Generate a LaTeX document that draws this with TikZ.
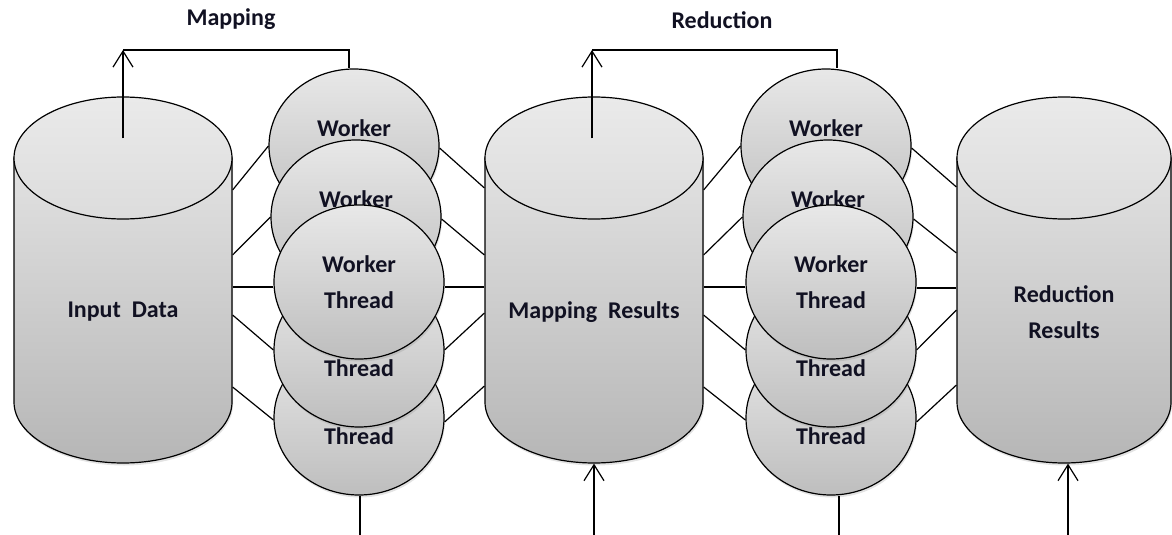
\documentclass[tikz,border=0pt]{standalone}
\usepackage{fontspec}
\setmainfont{Carlito}
\usetikzlibrary{shapes.geometric,arrows.meta,shadows,backgrounds}
\definecolor{cylA}{HTML}{E2E2E2}
\definecolor{cylB}{HTML}{B6B6B6}
\definecolor{capA}{HTML}{EAEAEA}
\definecolor{capB}{HTML}{DCDCDC}
\definecolor{wkA}{HTML}{E8E8E8}
\definecolor{wkB}{HTML}{BEBEBE}
\definecolor{txt}{HTML}{111122}
% #1 name, #2 centre x, #3 x radius, #4 text, #5 text y
\newcommand\mycyl[5]{%
  \shade[top color=cylA, bottom color=cylB, draw=black, line width=1.2pt,
         drop shadow={opacity=.22, shadow xshift=1pt, shadow yshift=-2.5pt}]
    (#2-#3,158) -- (#2-#3,402) arc[start angle=180, end angle=360, x radius=#3pt, y radius=61pt]
    -- (#2+#3,158) -- cycle;
  \shade[top color=capA, bottom color=capB, draw=black, line width=1.2pt]
    (#2,158) ellipse[x radius=#3pt, y radius=61pt];
  \node[inner sep=0pt, minimum width=2*#3pt, minimum height=366pt] (#1) at (#2,280) {};
  \node[lbl] at (#2,#5) {#4};
}
\begin{document}
\begin{tikzpicture}[x=1pt, y=-1pt, line width=1.2pt,
  lbl/.style={font=\fontsize{24}{35.5}\selectfont\bfseries, text=txt, align=center},
  wt/.style={ellipse, draw=black, line width=1.2pt, minimum width=170pt, minimum height=154pt,
             inner sep=0pt, top color=wkA, bottom color=wkB, lbl,
             drop shadow={opacity=.22, shadow xshift=1pt, shadow yshift=-2.5pt}},
  conn/.style={draw=black, line width=1.2pt},
  arr/.style={conn, -{Straight Barb[length=16pt, width=20pt]}}
]
\useasboundingbox (0,0) rectangle (1172,535);

% cylinders
\mycyl{in}{123}{109}{Input\ \ Data}{312}
\mycyl{mr}{594}{109}{Mapping\ \ Results}{312}
\mycyl{rr}{1064}{107}{Reduction\\Results}{312}

% worker threads, group 1 (stacking order 1,2,5,4,3)
\node[wt] (w1) at (354,146) {Worker\\Thread};
\node[wt] (w2) at (356,217) {Worker\\Thread};
\node[wt] (w5) at (359,418) {Worker\\Thread};
\node[wt] (w4) at (359,350) {Worker\\Thread};
\node[wt] (w3) at (359,282) {Worker\\Thread};
% worker threads, group 2
\node[wt] (v1) at (826,146) {Worker\\Thread};
\node[wt] (v2) at (828,217) {Worker\\Thread};
\node[wt] (v5) at (831,418) {Worker\\Thread};
\node[wt] (v4) at (831,350) {Worker\\Thread};
\node[wt] (v3) at (831,282) {Worker\\Thread};

% connectors behind the shapes
\begin{scope}[on background layer]
  \draw[conn] (in.east |- 0,190) -- (w1.west);
  \draw[conn] (in.east |- 0,255) -- (w2.west);
  \draw[conn] (in.east |- 0,287) -- (w3.west |- 0,287);
  \draw[conn] (in.east |- 0,315) -- (w4.west);
  \draw[conn] (in.east |- 0,387) -- ([yshift=-2pt]w5.west);
  \draw[conn] ([yshift=-2pt]w1.east) -- (mr.west |- 0,188);
  \draw[conn] ([yshift=-2pt]w2.east) -- (mr.west |- 0,255);
  \draw[conn] (w3.east |- 0,287) -- (mr.west |- 0,287);
  \draw[conn] (w4.east) -- (mr.west |- 0,313);
  \draw[conn] ([yshift=-4pt]w5.east) -- (mr.west |- 0,386);
  \draw[conn] (mr.east |- 0,190) -- (v1.west);
  \draw[conn] (mr.east |- 0,255) -- (v2.west);
  \draw[conn] (mr.east |- 0,287) -- (v3.west |- 0,287);
  \draw[conn] (mr.east |- 0,315) -- (v4.west);
  \draw[conn] (mr.east |- 0,387) -- ([yshift=-2pt]v5.west);
  \draw[conn] ([yshift=-2pt]v1.east) -- (rr.west |- 0,187);
  \draw[conn] ([yshift=-2pt]v2.east) -- (rr.west |- 0,253);
  \draw[conn] (v3.east |- 0,288) -- (rr.west |- 0,288);
  \draw[conn] (v4.east) -- (rr.west |- 0,310);
  \draw[conn] ([yshift=-4pt]v5.east) -- (rr.west |- 0,385);
\end{scope}

% feedback connectors on top
\coordinate (ta) at (123,50);
\coordinate (tb) at (592,50);
\draw[arr] ([yshift=-42pt]in.north) -- (ta);
\draw[conn] (ta) -| ([xshift=-5pt]w1.north);
\draw[arr] ([yshift=-42pt,xshift=-2pt]mr.north) -- (tb);
\draw[conn] (tb) -| ([xshift=11pt]v1.north);

% bottom connectors
\coordinate (ba) at (360,535);
\coordinate (bb) at (594,535);
\coordinate (bc) at (839,535);
\coordinate (bd) at (1068,535);
\draw[conn] ([xshift=1pt]w5.south) -- (ba);
\draw[arr] (bb) -- (mr.south);
\draw[conn] ([xshift=8pt]v5.south) -- (bc);
\draw[arr] (bd) -- (bd |- rr.south);

% titles
\node[lbl] (t1) at (231,19) {Mapping};
\node[lbl] (t2) at (722,20) {Reduction};
\end{tikzpicture}
\end{document}
